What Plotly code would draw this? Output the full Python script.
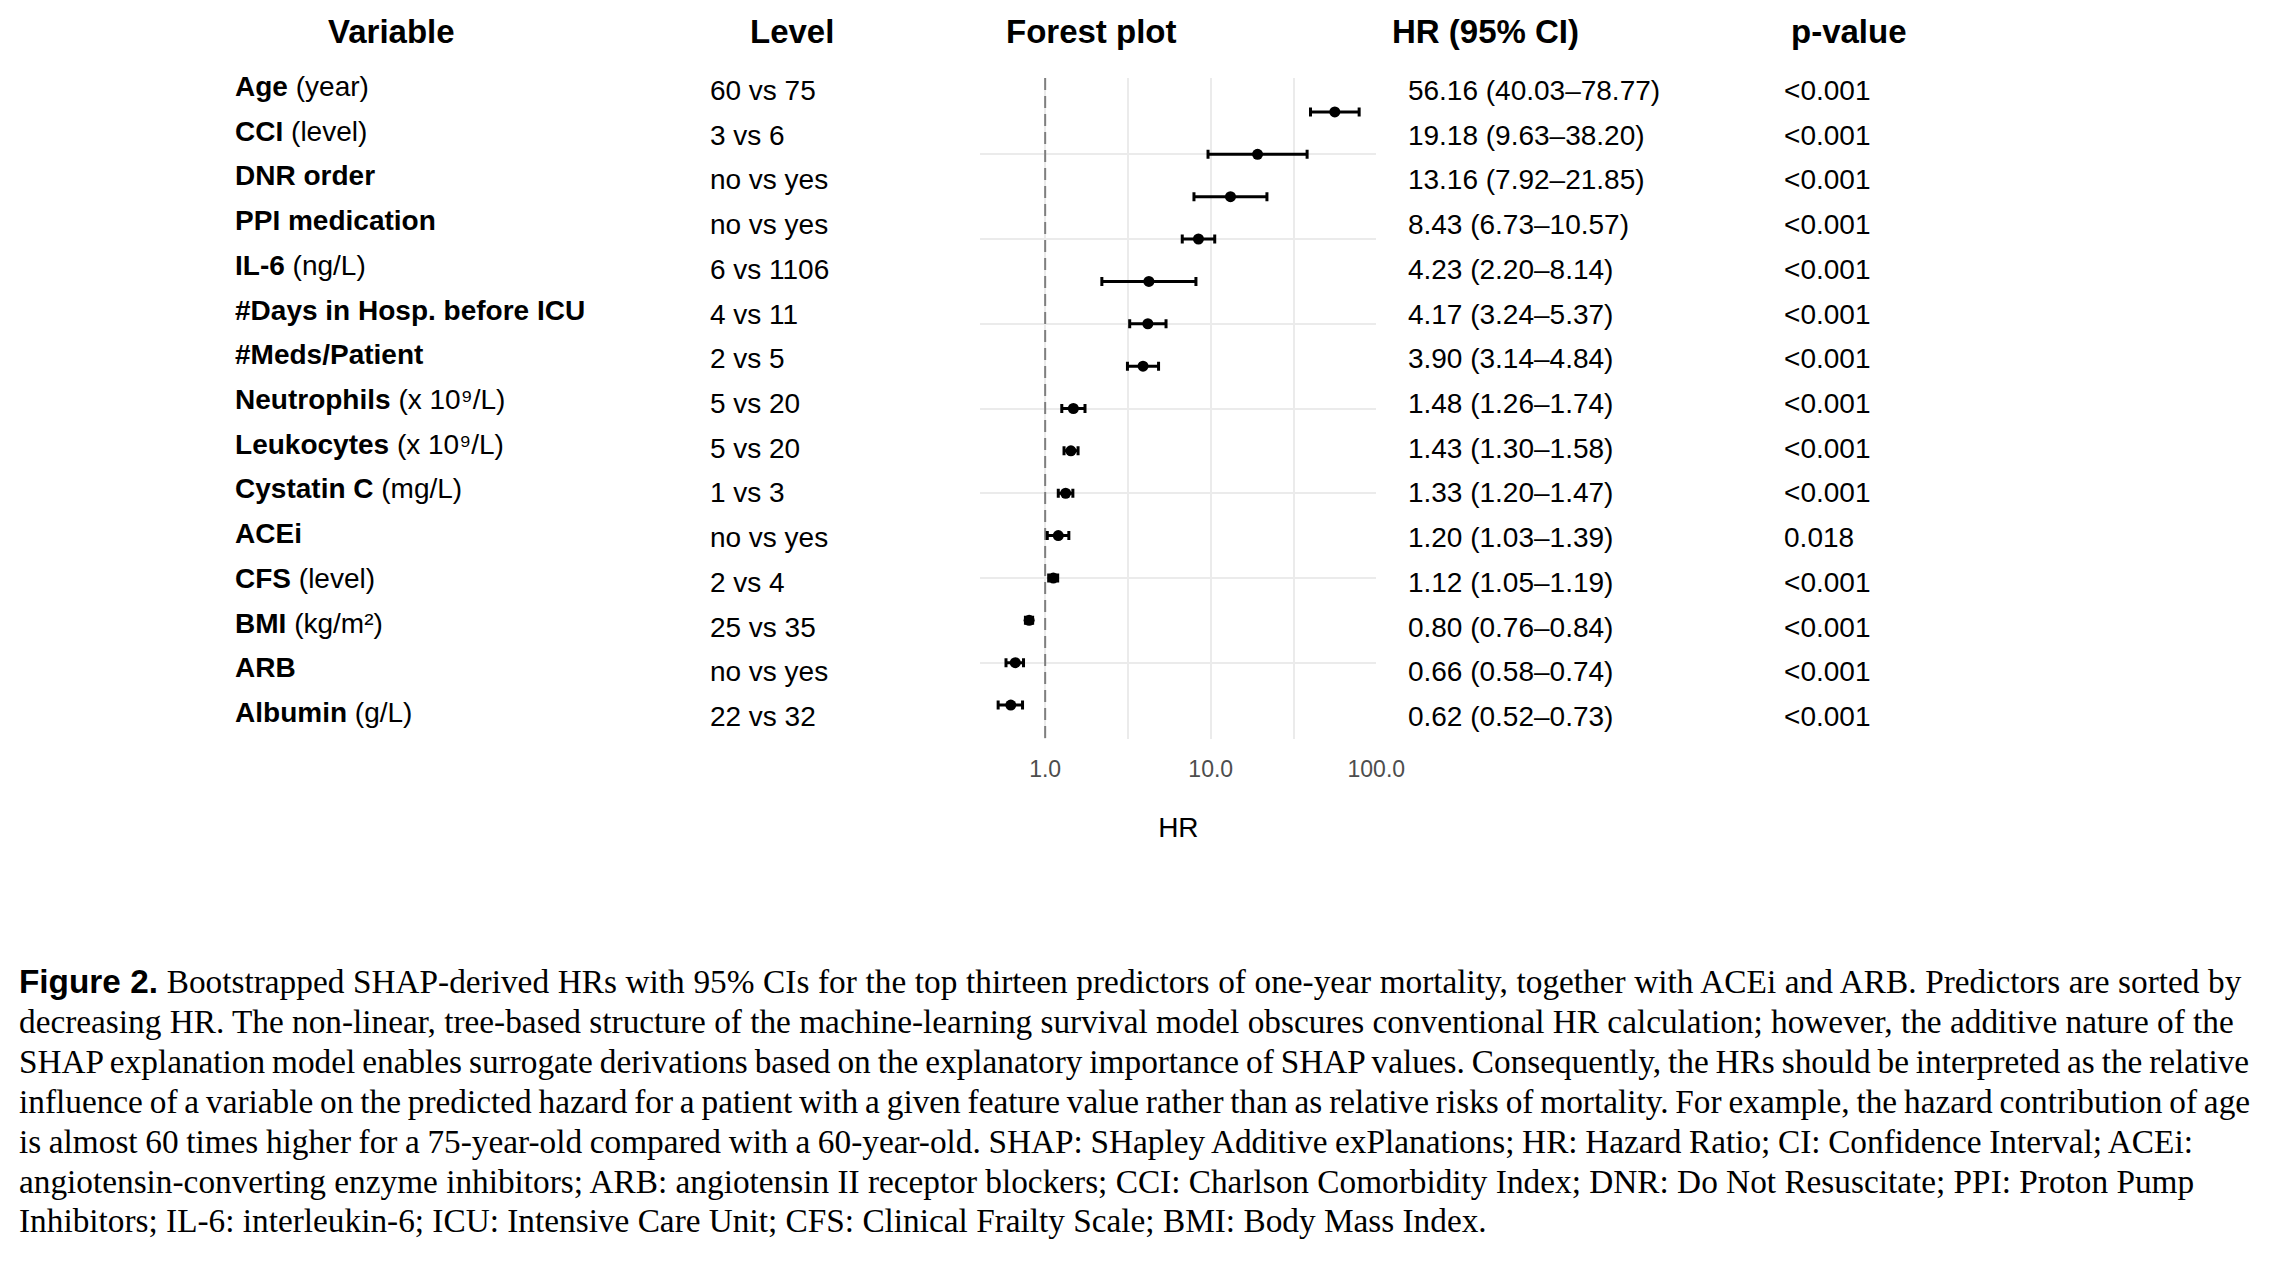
import plotly.graph_objects as go

W, H = 2272, 1270

# ---------------- data ----------------
var_names = ["Age", "CCI", "DNR order", "PPI medication", "IL-6",
             "#Days in Hosp. before ICU", "#Meds/Patient", "Neutrophils",
             "Leukocytes", "Cystatin C", "ACEi", "CFS", "BMI", "ARB", "Albumin"]
var_units = ["(year)", "(level)", "", "", "(ng/L)", "", "", "(x 10⁹/L)",
             "(x 10⁹/L)", "(mg/L)", "", "(level)", "(kg/m²)", "", "(g/L)"]
levels = ["60 vs 75", "3 vs 6", "no vs yes", "no vs yes", "6 vs 1106", "4 vs 11",
          "2 vs 5", "5 vs 20", "5 vs 20", "1 vs 3", "no vs yes", "2 vs 4",
          "25 vs 35", "no vs yes", "22 vs 32"]
hr = [56.16, 19.18, 13.16, 8.43, 4.23, 4.17, 3.90, 1.48, 1.43, 1.33, 1.20, 1.12, 0.80, 0.66, 0.62]
ci_low = [40.03, 9.63, 7.92, 6.73, 2.20, 3.24, 3.14, 1.26, 1.30, 1.20, 1.03, 1.05, 0.76, 0.58, 0.52]
ci_high = [78.77, 38.20, 21.85, 10.57, 8.14, 5.37, 4.84, 1.74, 1.58, 1.47, 1.39, 1.19, 0.84, 0.74, 0.73]
p_values = ["<0.001"] * 10 + ["0.018"] + ["<0.001"] * 4
x_ticks = [1, 10, 100]
x_ticktext = ["1.0", "10.0", "100.0"]
headers = ["Variable", "Level", "Forest plot", "HR (95% CI)", "p-value"]
caption_lines = [
    "<span style=\"font-family:'Liberation Sans', Arial, sans-serif\"><b>Figure 2.</b></span> Bootstrapped SHAP-derived HRs with 95% CIs for the top thirteen predictors of one-year mortality, together with ACEi and ARB. Predictors are sorted by",
    "decreasing HR. The non-linear, tree-based structure of the machine-learning survival model obscures conventional HR calculation; however, the additive nature of the",
    "SHAP explanation model enables surrogate derivations based on the explanatory importance of SHAP values. Consequently, the HRs should be interpreted as the relative",
    "influence of a variable on the predicted hazard for a patient with a given feature value rather than as relative risks of mortality. For example, the hazard contribution of age",
    "is almost 60 times higher for a 75-year-old compared with a 60-year-old. SHAP: SHapley Additive exPlanations; HR: Hazard Ratio; CI: Confidence Interval; ACEi:",
    "angiotensin-converting enzyme inhibitors; ARB: angiotensin II receptor blockers; CCI: Charlson Comorbidity Index; DNR: Do Not Resuscitate; PPI: Proton Pump",
    "Inhibitors; IL-6: interleukin-6; ICU: Intensive Care Unit; CFS: Clinical Frailty Scale; BMI: Body Mass Index.",
]
# per-line word spacing (px) to mimic the justified caption
caption_word_spacing = [0.33, 0.0, -1.4, -1.45, -0.7, 0.0, 0.0]

rows = list(range(1, len(hr) + 1))
hr_text = [f"{h:.2f} ({lo:.2f}\u2013{hi:.2f})" for h, lo, hi in zip(hr, ci_low, ci_high)]
var_text = [f"<b>{n}</b> {u}" if u else f"<b>{n}</b>" for n, u in zip(var_names, var_units)]

# ---------------- layout helpers (pixel -> paper) ----------------
SANS = "'Liberation Sans', Arial, Helvetica, sans-serif"
SERIF = "'Liberation Serif', 'Times New Roman', serif"

def px(x):
    return x / W

def py(y):
    return 1 - y / H

panel_l, panel_r, panel_t, panel_b = 985, 1386, 70, 731
tab_shift = -5                      # text rows: centres at 90 + 44.71*(i-1)
tab_t, tab_b = 67.6 + tab_shift, 738.4 + tab_shift
var_shift = -4
col_x = {"var": 230, "level": 711, "hr": 1418, "p": 1799}
head_x = [388, 794, 1098, 1497, 1865]
head_y = 23

fig = go.Figure()

# dashed reference line at HR = 1
fig.add_trace(go.Scatter(
    x=[1, 1], y=[0.2, 15.8], mode="lines",
    line=dict(color="#7f7f7f", width=2, dash="12px,6px"),
    hoverinfo="skip", showlegend=False, xaxis="x", yaxis="y"))

# points with CIs
fig.add_trace(go.Scatter(
    x=hr, y=rows, mode="markers",
    marker=dict(color="black", size=11),
    error_x=dict(type="data", symmetric=False,
                 array=[h2 - h for h, h2 in zip(hr, ci_high)],
                 arrayminus=[h - l for h, l in zip(hr, ci_low)],
                 color="black", thickness=3, width=4.5),
    hoverinfo="skip", showlegend=False, xaxis="x", yaxis="y"))

# table text columns
def text_col(xpos, texts, yaxis, color="black"):
    fig.add_trace(go.Scatter(
        x=[xpos] * len(texts), y=rows, mode="text", text=texts,
        textposition="middle right",
        textfont=dict(family=SANS, size=28, color=color),
        hoverinfo="skip", showlegend=False, cliponaxis=False,
        xaxis="x2", yaxis=yaxis))

text_col(col_x["var"], var_text, "y3")
text_col(col_x["level"], levels, "y2")
text_col(col_x["hr"], hr_text, "y2")
text_col(col_x["p"], p_values, "y2")

annotations = []
for hx, htxt in zip(head_x, headers):
    annotations.append(dict(
        x=px(hx), y=py(head_y), xref="paper", yref="paper",
        text=f"<b>{htxt}</b>", showarrow=False, xanchor="center", yanchor="middle",
        font=dict(family=SANS, size=33, color="black")))

for k, (line, ws) in enumerate(zip(caption_lines, caption_word_spacing)):
    annotations.append(dict(
        x=px(9), y=py(974 + 39.8 * k), xref="paper", yref="paper",
        text=f'<span style="word-spacing:{ws}px">{line}</span>' if ws else line,
        showarrow=False, xanchor="left", yanchor="middle", align="left",
        font=dict(family=SERIF, size=33.3, color="black")))

fig.update_layout(
    width=W, height=H, margin=dict(l=0, r=0, t=0, b=0),
    paper_bgcolor="white", plot_bgcolor="rgba(0,0,0,0)",
    xaxis=dict(
        type="log", domain=[px(panel_l), px(panel_r)], range=[-0.391, 2.0],
        tickmode="array", tickvals=x_ticks, ticktext=x_ticktext,
        showgrid=True, gridcolor="#ebebeb", gridwidth=2,
        minor=dict(tickmode="array", tickvals=[10 ** 0.5, 10 ** 1.5],
                   showgrid=True, gridcolor="#ebebeb", gridwidth=1.5),
        zeroline=False, showline=False, ticks="",
        tickfont=dict(family=SANS, size=23, color="#4d4d4d"),
        ticklabelstandoff=14,
        title=dict(text="HR", font=dict(family=SANS, size=28, color="black"), standoff=36),
        anchor="y"),
    yaxis=dict(
        domain=[py(panel_b), py(panel_t)], range=[15.8, 0.2],
        tickmode="array", tickvals=[2, 4, 6, 8, 10, 12, 14],
        showticklabels=False, showgrid=True, gridcolor="#ebebeb", gridwidth=2,
        zeroline=False, showline=False, ticks="", anchor="x"),
    xaxis2=dict(domain=[0, 1], range=[0, W], visible=False, anchor="y2"),
    yaxis2=dict(domain=[py(tab_b), py(tab_t)], range=[15.5, 0.5], visible=False, anchor="x2"),
    yaxis3=dict(domain=[py(tab_b + var_shift), py(tab_t + var_shift)], range=[15.5, 0.5],
                visible=False, anchor="x2"),
    annotations=annotations,
)

fig.write_html("out.html")
